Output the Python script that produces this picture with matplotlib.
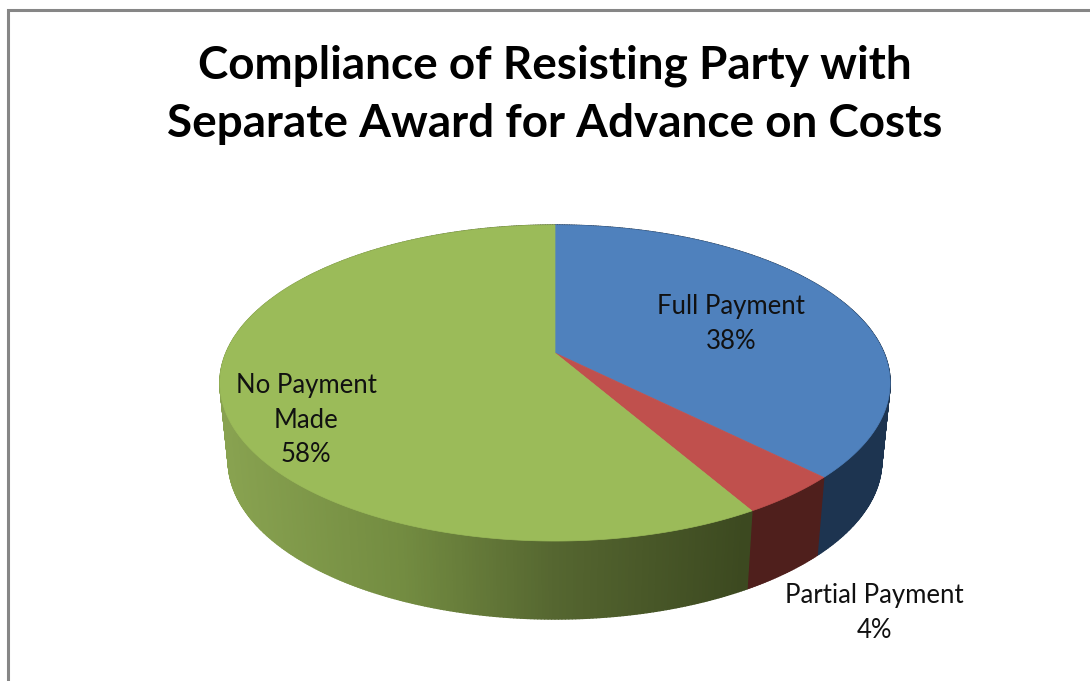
import numpy as np
import matplotlib.pyplot as plt
from matplotlib.collections import PolyCollection

plt.rcParams['font.family'] = ['Lato', 'DejaVu Sans']

title = 'Compliance of Resisting Party with\nSeparate Award for Advance on Costs'
categories = ['Full Payment', 'Partial Payment', 'No Payment\nMade']
# slice sizes, they round to the printed 38 / 4 / 58 %
shares = [9, 1, 14]
top_colors = ['#4f81bd', '#c0504d', '#9bbb59']
wall_colors = ['#1d3450', '#4f1f1c', None]

# pie geometry in image pixels, the tilt is a simple perspective projection
cx, cy = 555, 353
radius = 329
k = 0.19
scale_y = 152.3
depth = 78
bottom_shrink = 0.975


def project(angle):
    # angle in degrees, clockwise from 12 o'clock
    t = np.radians(angle)
    u, v = np.sin(t), np.cos(t)
    d = 1 + k * v
    return radius * u / d, -scale_y * v / d


def top_pts(angle):
    x, y = project(angle)
    return np.column_stack([cx + x, cy + y])


def bottom_pts(angle):
    x, y = project(angle)
    return np.column_stack([cx + x * bottom_shrink, cy + y + depth])


def green_shade(x):
    r = np.interp(x, [225, 400, 555, 745], [0x88, 0x73, 0x55, 0x3c])
    g = np.interp(x, [225, 400, 555, 745], [0xa2, 0x8c, 0x66, 0x49])
    b = np.interp(x, [225, 400, 555, 745], [0x50, 0x41, 0x30, 0x20])
    return (r / 255, g / 255, b / 255)


fig = plt.figure(figsize=(10.9, 6.81), dpi=100)
ax = fig.add_axes([0, 0, 1, 1])
ax.set_xlim(0, 1090)
ax.set_ylim(681, 0)
ax.axis('off')

# frame of the chart area, only top and left are in the crop
ax.plot([7.5, 7.5, 1090], [681, 9.5, 9.5], color='#868686', lw=2.2, solid_joinstyle='miter')

edges = 360 * np.cumsum([0] + shares) / sum(shares)

# side walls first, the top faces cover whatever is behind them
for i in range(len(shares)):
    a = np.arange(edges[i], edges[i + 1], 0.5)
    a = np.append(a, edges[i + 1])
    top = top_pts(a)
    bot = bottom_pts(a)
    quads = []
    cols = []
    for j in range(len(a) - 1):
        quads.append([top[j], top[j + 1], bot[j + 1], bot[j]])
        if wall_colors[i] is None:
            cols.append(green_shade((top[j][0] + top[j + 1][0]) / 2))
        else:
            cols.append(wall_colors[i])
    ax.add_collection(PolyCollection(quads, facecolors=cols, edgecolors=cols, linewidths=1.0))

for i in range(len(shares)):
    a = np.append(np.arange(edges[i], edges[i + 1], 0.5), edges[i + 1])
    pts = np.vstack([[cx, cy], top_pts(a)])
    ax.fill(pts[:, 0], pts[:, 1], color=top_colors[i], lw=0.5)

ax.text(555, 95, title, ha='center', va='center', fontsize=33, fontweight='bold',
        color='black', linespacing=1.47)

pct = [f'{100 * s / sum(shares):.0f}%' for s in shares]
label_pos = [(731, 324), (874, 613), (306, 420)]
for cat, p, (x, y) in zip(categories, pct, label_pos):
    ax.text(x, y, f'{cat}\n{p}', ha='center', va='center', fontsize=18.5, color='#111111',
            linespacing=1.46)

plt.savefig('out.png', dpi=100)
